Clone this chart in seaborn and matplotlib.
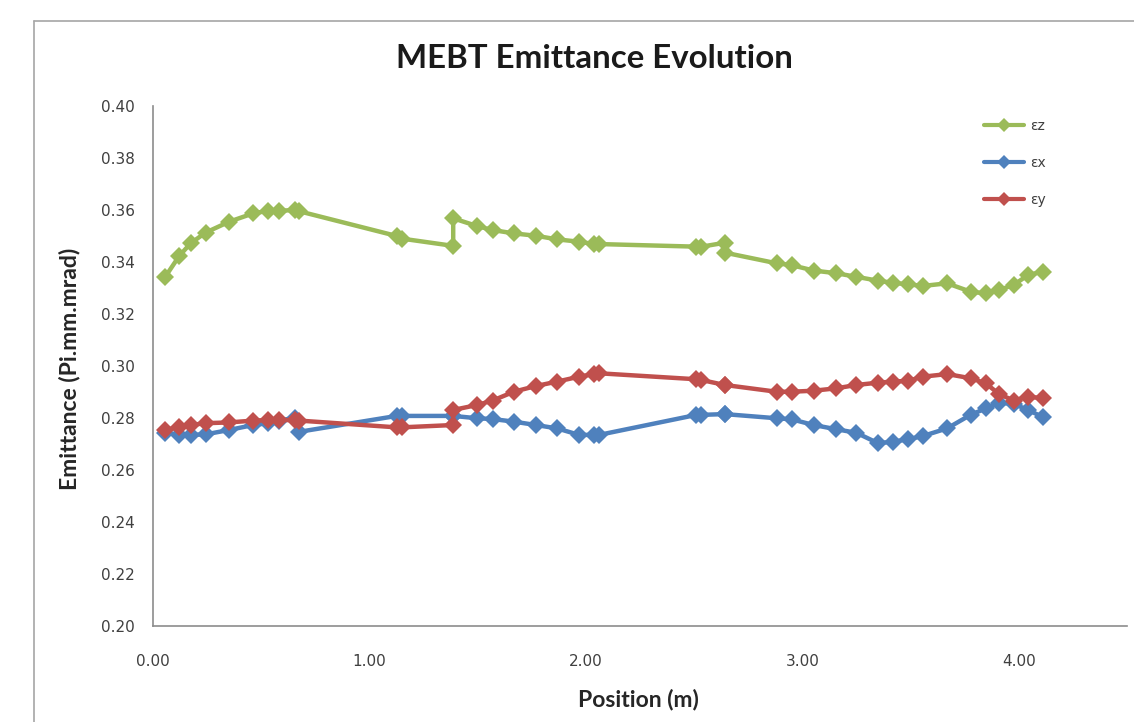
import matplotlib
matplotlib.use("Agg")
import matplotlib.pyplot as plt
from matplotlib.lines import Line2D
import pandas as pd
import seaborn as sns

# Beam-line position (m) of each output step; repeated values mark element boundaries
position = [0.055, 0.121, 0.174, 0.243, 0.352, 0.463, 0.533, 0.583, 0.656, 0.676,
            1.126, 1.149, 1.387, 1.387, 1.498, 1.569, 1.667, 1.769, 1.867, 1.969,
            2.037, 2.061, 2.511, 2.534, 2.642, 2.642, 2.881, 2.950, 3.053, 3.155,
            3.250, 3.350, 3.419, 3.489, 3.558, 3.669, 3.777, 3.848, 3.909, 3.977,
            4.043, 4.112]

eps_z = [0.3341, 0.3423, 0.3472, 0.3513, 0.3555, 0.3587, 0.3597, 0.3597, 0.3600, 0.3595,
         0.3500, 0.3490, 0.3462, 0.3568, 0.3538, 0.3523, 0.3510, 0.3501, 0.3487, 0.3478,
         0.3469, 0.3469, 0.3459, 0.3459, 0.3474, 0.3436, 0.3395, 0.3388, 0.3367, 0.3357,
         0.3343, 0.3328, 0.3320, 0.3314, 0.3308, 0.3318, 0.3286, 0.3279, 0.3292, 0.3312,
         0.3350, 0.3363]

eps_x = [0.2743, 0.2735, 0.2735, 0.2737, 0.2754, 0.2773, 0.2780, 0.2790, 0.2801, 0.2747,
         0.2808, 0.2808, 0.2808, 0.2808, 0.2799, 0.2796, 0.2786, 0.2773, 0.2760, 0.2735,
         0.2735, 0.2735, 0.2812, 0.2812, 0.2815, 0.2815, 0.2799, 0.2795, 0.2773, 0.2757,
         0.2743, 0.2703, 0.2709, 0.2718, 0.2731, 0.2760, 0.2812, 0.2837, 0.2859, 0.2854,
         0.2831, 0.2803]

eps_y = [0.2754, 0.2764, 0.2773, 0.2780, 0.2783, 0.2790, 0.2792, 0.2792, 0.2792, 0.2790,
         0.2764, 0.2764, 0.2773, 0.2831, 0.2850, 0.2867, 0.2901, 0.2923, 0.2940, 0.2959,
         0.2969, 0.2972, 0.2949, 0.2946, 0.2927, 0.2927, 0.2901, 0.2901, 0.2905, 0.2914,
         0.2927, 0.2936, 0.2940, 0.2943, 0.2959, 0.2969, 0.2953, 0.2933, 0.2892, 0.2867,
         0.2882, 0.2876]

series_names = ["εz", "εx", "εy"]
series_colors = ["#9BBB59", "#4F81BD", "#C0504D"]

x_ticks = [0.0, 1.0, 2.0, 3.0, 4.0]
y_ticks = [0.20, 0.22, 0.24, 0.26, 0.28, 0.30, 0.32, 0.34, 0.36, 0.38, 0.40]

frames = []
for name, vals in zip(series_names, [eps_z, eps_x, eps_y]):
    frames.append(pd.DataFrame({"Position": position, "Emittance": vals, "Plane": name}))
df = pd.concat(frames, ignore_index=True)

sns.set_theme(style="white")
plt.rcParams["font.family"] = ["Lato", "DejaVu Sans"]

fig = plt.figure(figsize=(11.34, 7.22), dpi=100)
W, H = 1134, 722
ax = fig.add_axes([153 / W, (H - 626) / H, (1127 - 153) / W, (626 - 106) / H])

sns.lineplot(data=df, x="Position", y="Emittance", hue="Plane",
             hue_order=series_names, palette=series_colors,
             units="Plane", estimator=None, sort=False,
             marker="D", markersize=9.5, markeredgewidth=0,
             linewidth=3.2, ax=ax)

ax.set_xlim(0, 4.5)
ax.set_ylim(0.20, 0.40)
ax.set_xticks(x_ticks)
ax.set_xticklabels([f"{t:.2f}" for t in x_ticks])
ax.set_yticks(y_ticks)
ax.set_yticklabels([f"{t:.2f}" for t in y_ticks])
ax.tick_params(axis="both", length=0, labelcolor="#404040")
ax.tick_params(axis="x", pad=20)
ax.tick_params(axis="y", pad=13)
for lab in ax.get_xticklabels() + ax.get_yticklabels():
    lab.set_fontfamily("DejaVu Sans")
    lab.set_fontsize(11)

for side in ["top", "right"]:
    ax.spines[side].set_visible(False)
for side in ["left", "bottom"]:
    ax.spines[side].set_color("#8c8c8c")
    ax.spines[side].set_linewidth(1.2)

ax.set_xlabel("")
ax.set_ylabel("")
fig.text(638 / W, 1 - 700 / H, "Position (m)", ha="center", va="center",
         fontsize=16.5, fontweight="bold", color="#262626")
fig.text(69 / W, 1 - 369 / H, "Emittance (Pi.mm.mrad)", ha="center", va="center",
         rotation=90, fontsize=16.5, fontweight="bold", color="#262626")
fig.text(594 / W, 1 - 59 / H, "MEBT Emittance Evolution", ha="center", va="center",
         fontsize=23.8, fontweight="bold", color="#1a1a1a")

handles = [Line2D([], [], color=c, linewidth=3, marker="D", markersize=7,
                  markeredgewidth=0) for c in series_colors]
ax.legend(handles, series_names, loc="upper left",
          bbox_to_anchor=((984 - 153) / (1127 - 153), 1 - (119 - 106) / (626 - 106)),
          frameon=False, prop={"family": "DejaVu Sans", "size": 10},
          handlelength=2.9, handletextpad=0.45,
          labelspacing=1.65, labelcolor="#404040", borderaxespad=0, borderpad=0)

# chart-area border
fig.add_artist(Line2D([34 / W, 34 / W], [0, 1 - 21 / H], transform=fig.transFigure,
                      color="#a6a6a6", linewidth=1.2))
fig.add_artist(Line2D([34 / W, 1], [1 - 21 / H, 1 - 21 / H], transform=fig.transFigure,
                      color="#a6a6a6", linewidth=1.2))

fig.savefig("out.png", dpi=100, facecolor="white")
